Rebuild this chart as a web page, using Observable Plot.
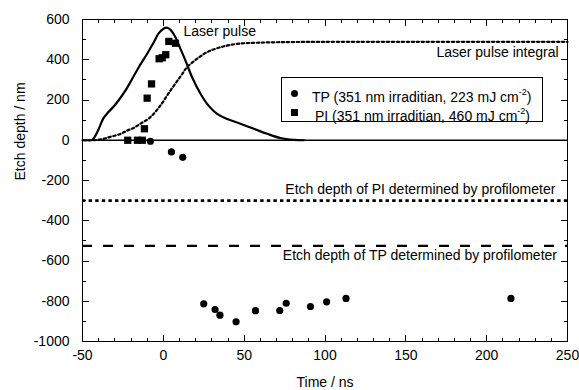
<!DOCTYPE html>
<html><head><meta charset="utf-8">
<script src="https://cdn.jsdelivr.net/npm/d3@7"></script>
<script src="https://cdn.jsdelivr.net/npm/@observablehq/plot@0.6"></script>
<style>
html,body{margin:0;padding:0;background:#fff;}
#wrap{position:relative;width:579px;height:390px;font-family:"Liberation Sans",Arial,sans-serif;color:#000;}
#overlay{position:absolute;left:0;top:0;width:579px;height:390px;pointer-events:none;}
#overlay div{position:absolute;background:#000;}
#legend{position:absolute;left:281px;top:77px;width:260px;height:43px;border:1px solid #000;font-size:14px;background:#fff;}
.row{position:absolute;white-space:nowrap;line-height:16px;height:16px;}
.mk{position:absolute;background:#000;}
sup{font-size:9px;position:relative;top:-1px;}
</style></head><body>
<div id="wrap"><div id="chart"></div><div id="overlay"></div><div id="legend"></div></div>
<script>
// --- data ---
const pulseTime  = [-50, -47, -44, -40.9, -37, -34, -31, -27.5, -24, -20.3, -15.2, -10, -5.9, -2.8, 0.3, 2.4, 4.4, 7.5, 10.6, 13.7, 17.8, 23, 27.1, 33.3, 39.5, 47.7, 56, 64.2, 72.4, 80.7, 87];
const pulseValue = [0, 0, 2, 40, 110, 140, 165, 200, 240, 290, 363, 430, 487, 532, 555, 559, 549, 512, 454, 396, 313, 231, 181, 131, 106, 82, 57, 32, 11, 2, 0];

const integralTime  = [-43, -38, -32.7, -27, -22.4, -18, -14.2, -8, -1.8, 4.4, 10.6, 14.7, 20.9, 27.1, 35.3, 45.7, 60, 80, 120, 250];
const integralValue = [0, 5, 17, 30, 48, 63, 82, 115, 173, 247, 317, 363, 405, 438, 462, 479, 485, 488, 489, 489];

const tpTime  = [-8, 5, 12, 25, 32, 35, 45, 57, 72, 76, 91, 101, 113, 215];
const tpDepth = [-5, -58, -85, -813, -841, -869, -902, -847, -846, -810, -826, -803, -786, -786];

const piTime  = [-22, -16, -13, -11.7, -10, -7.3, -2.6, -0.7, 1.5, 3.4, 7.5];
const piDepth = [0, 0, 0, 57, 209, 280, 405, 410, 425, 491, 482];

const piProfilometer = -300;
const tpProfilometer = -525;

const annoText = ["Laser pulse", "Laser pulse integral", "Etch depth of PI determined by profilometer", "Etch depth of TP determined by profilometer"];
const annoX = [12.5, 244.5, 242.5, 243.5];
const annoY = [540, 436, -245, -573];
const annoAnchor = ["start", "end", "end", "end"];

const legendNames = ["TP (351 nm irraditian, 223 mJ cm", "PI (351 nm irraditian, 460 mJ cm"];
const legendSup = ["-2", "-2"];

const xDomain = [-50, 250];
const yDomain = [-1000, 600];
const xMajor = d3.range(-50, 251, 50);
const xMinor = d3.range(-50, 251, 10);
const yMajor = d3.range(-1000, 601, 200);
const yMinor = d3.range(-1000, 601, 100);

// --- tables ---
const pulse = pulseTime.map((t, i) => ({t, v: pulseValue[i]}));
const integral = integralTime.map((t, i) => ({t, v: integralValue[i]}));
const tp = tpTime.map((t, i) => ({t, v: tpDepth[i]}));
const pi = piTime.map((t, i) => ({t, v: piDepth[i]}));
const anno = annoText.map((s, i) => ({s, x: annoX[i], y: annoY[i], a: annoAnchor[i]}));

const fmt = d => `${d}`;
const ink = "#000";

const chart = Plot.plot({
  width: 579, height: 390,
  marginLeft: 82, marginRight: 12, marginTop: 19, marginBottom: 49,
  style: {fontFamily: '"Liberation Sans", Arial, sans-serif', fontSize: "14px", background: "#fff", color: ink},
  x: {domain: xDomain},
  y: {domain: yDomain},
  marks: [
    Plot.axisX({ticks: xMajor, tickSize: 0, tickPadding: 9, tickFormat: fmt, label: null, fontSize: 14}),
    Plot.axisY({ticks: yMajor, tickSize: 0, tickPadding: 13, tickFormat: fmt, label: null, fontSize: 14}),
    Plot.ruleY([0], {stroke: ink, strokeWidth: 1.4}),
    Plot.ruleY([piProfilometer], {stroke: ink, strokeWidth: 2.6, strokeDasharray: "3.4,3.2"}),
    Plot.ruleY([tpProfilometer], {stroke: ink, strokeWidth: 2.4, strokeDasharray: "10,11"}),
    Plot.line(pulse, {x: "t", y: "v", stroke: ink, strokeWidth: 2.2, curve: "catmull-rom"}),
    Plot.line(integral, {x: "t", y: "v", stroke: ink, strokeWidth: 2.2, strokeDasharray: "2.4,2.6", curve: "catmull-rom"}),
    Plot.dot(pi, {x: "t", y: "v", symbol: "square", r: 4.1, fill: ink, stroke: "none"}),
    Plot.dot(tp, {x: "t", y: "v", symbol: "circle", r: 3.6, fill: ink, stroke: "none"}),
    Plot.text(anno.filter(d => d.a === "start"), {x: "x", y: "y", text: "s", textAnchor: "start", fill: ink, fontSize: 14}),
    Plot.text(anno.filter(d => d.a === "end"), {x: "x", y: "y", text: "s", textAnchor: "end", fill: ink, fontSize: 14}),
    Plot.text(["Time / ns"], {frameAnchor: "bottom", dy: 45, text: d => d, fill: ink, fontSize: 14}),
    Plot.text(["Etch depth / nm"], {frameAnchor: "left", dx: -62, rotate: -90, text: d => d, fill: ink, fontSize: 14})
  ]
});
document.getElementById("chart").appendChild(chart);

// plot box and inward ticks, placed with the chart's own scales
const sx = chart.scale("x"), sy = chart.scale("y");
const L = Math.round(sx.apply(xDomain[0])), R = Math.round(sx.apply(xDomain[1]));
const T = Math.round(sy.apply(yDomain[1])), B = Math.round(sy.apply(yDomain[0]));
const overlay = document.getElementById("overlay");
const seg = (left, top, w, h) => {
  const d = document.createElement("div");
  d.style.cssText = `left:${left}px;top:${top}px;width:${w}px;height:${h}px;`;
  overlay.appendChild(d);
};
// box
seg(L, T, R - L + 1, 1);
seg(L, B, R - L + 1, 1);
seg(L, T, 1, B - T + 1);
seg(R, T, 1, B - T + 1);
// x ticks (bottom and top)
const xTick = (v, len) => {
  const px = Math.round(sx.apply(v));
  seg(px, B - len, 1, len);
  seg(px, T + 1, 1, len);
};
xMinor.forEach(v => xTick(v, 3));
xMajor.forEach(v => xTick(v, 6));
// y ticks (left and right)
const yTick = (v, len) => {
  const py = Math.round(sy.apply(v));
  seg(L + 1, py, len, 1);
  seg(R - len, py, len, 1);
};
yMinor.forEach(v => yTick(v, 3));
yMajor.forEach(v => yTick(v, 6));

// legend (inside plot area)
const legend = document.getElementById("legend");
legendNames.forEach((name, i) => {
  const top = i === 0 ? 7 : 26;
  const mk = document.createElement("div");
  mk.className = "mk";
  mk.style.cssText = `left:9px;top:${top + 4.5}px;width:7px;height:7px;` + (i === 0 ? "border-radius:50%;" : "");
  legend.appendChild(mk);
  const row = document.createElement("div");
  row.className = "row";
  row.style.left = (i === 0 ? 30 : 33) + "px";
  row.style.top = top + "px";
  row.innerHTML = `${name}<sup>${legendSup[i]}</sup>)`;
  legend.appendChild(row);
});
</script>
</body></html>
